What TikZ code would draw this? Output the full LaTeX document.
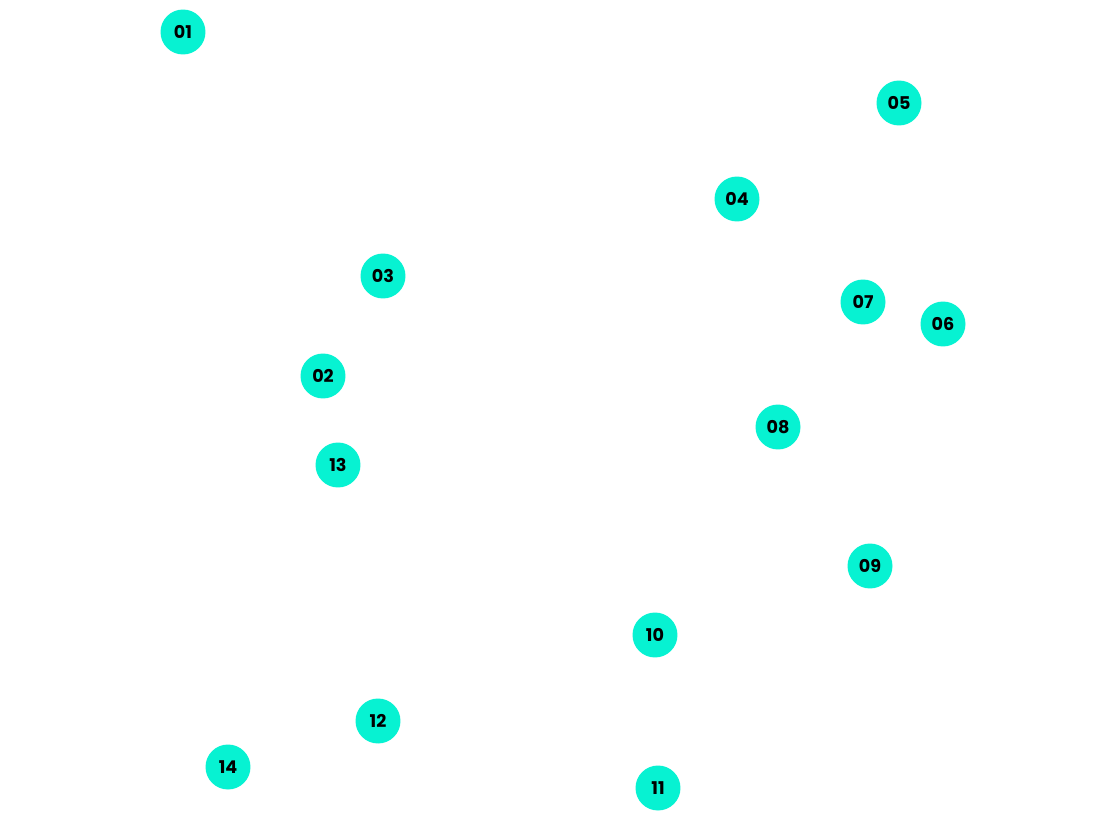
\documentclass[tikz,border=0pt]{standalone}
\usepackage{fontspec}
\setmainfont{Poppins}
\definecolor{punkt}{HTML}{07F2D2}
\begin{document}
\begin{tikzpicture}[x=0.02cm,y=-0.02cm,
	punkt/.style={circle,fill=punkt,minimum size=0.9cm,inner sep=0pt,font=\bfseries\fontsize{10}{12}\selectfont}]

\useasboundingbox (0,0) rectangle (1100,818);

\foreach \n/\x/\y in {01/183/32,02/323/376,03/383/276,04/737/199,05/899/103,
	06/943/324,07/863/302,08/778/427,09/870/566,10/655/635,
	11/658/788,12/378/721,13/338/465,14/228/767}{
	\node[punkt] (p\n) at (\x,\y) {\n};
}

\end{tikzpicture}
\end{document}
